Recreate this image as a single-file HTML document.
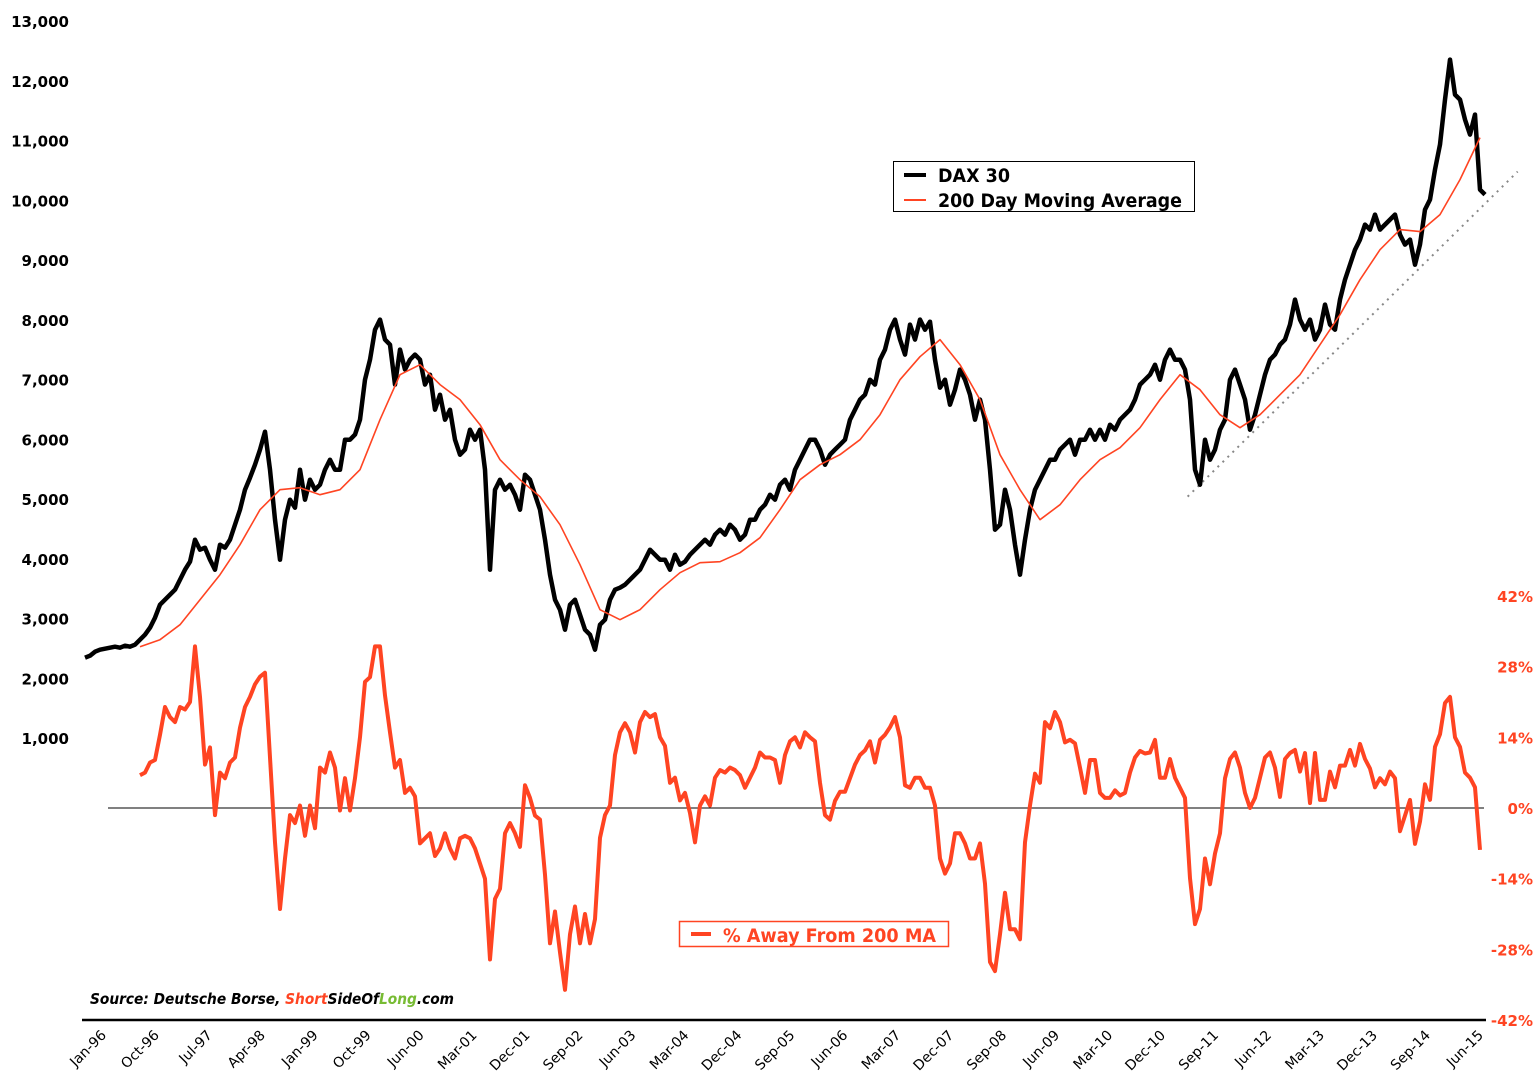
<!DOCTYPE html>
<html><head><meta charset="utf-8"><style>
html,body{margin:0;padding:0;background:#fff;}
svg{display:block;font-family:"DejaVu Sans","Liberation Sans",sans-serif;}
</style></head><body>
<svg id="chart" width="1540" height="1092" viewBox="0 0 1540 1092" xmlns="http://www.w3.org/2000/svg">
<g id="grid"></g>
<g id="marks"></g>
<g>
<rect x="893.5" y="161.5" width="301" height="50" fill="#fff" stroke="#000" stroke-width="1"/>
<line x1="904" y1="175" x2="926" y2="175" stroke="#000" stroke-width="4"/>
<text x="938" y="182" font-size="19" font-weight="bold" fill="#000" textLength="72" lengthAdjust="spacingAndGlyphs">DAX 30</text>
<line x1="904" y1="200" x2="926" y2="200" stroke="#ff4422" stroke-width="2"/>
<text x="938" y="207" font-size="19" font-weight="bold" fill="#000" textLength="244" lengthAdjust="spacingAndGlyphs">200 Day Moving Average</text>
</g>
<g>
<rect x="679.5" y="921.5" width="269" height="25" fill="#fff" stroke="#ff4422" stroke-width="1.5"/>
<line x1="691" y1="934" x2="711" y2="934" stroke="#ff4422" stroke-width="4"/>
<text x="723" y="942" font-size="19" font-weight="bold" fill="#ff4422" textLength="213" lengthAdjust="spacingAndGlyphs">% Away From 200 MA</text>
</g>
<text x="90" y="1004" font-size="15" font-weight="bold" font-style="italic" fill="#000" textLength="364" lengthAdjust="spacingAndGlyphs">Source: Deutsche Borse, <tspan fill="#ff4422">Short</tspan><tspan fill="#000">SideOf</tspan><tspan fill="#77bb33">Long</tspan>.com</text>
</svg>
<script>
const leftTicks=[1000,2000,3000,4000,5000,6000,7000,8000,9000,10000,11000,12000,13000];
const rightTicks=[-42,-28,-14,0,14,28,42];
const xLabels=["Jan-96","Oct-96","Jul-97","Apr-98","Jan-99","Oct-99","Jun-00","Mar-01","Dec-01","Sep-02","Jun-03","Mar-04","Dec-04","Sep-05","Jun-06","Mar-07","Dec-07","Sep-08","Jun-09","Mar-10","Dec-10","Sep-11","Jun-12","Mar-13","Dec-13","Sep-14","Jun-15"];
const daxValues=[2344,2377,2444,2478,2494,2511,2528,2511,2544,2528,2561,2645,2729,2846,3013,3231,3315,3398,3482,3649,3817,3951,4319,4152,4185,3984,3817,4235,4185,4319,4570,4821,5156,5357,5574,5825,6127,5491,4654,3984,4654,4989,4855,5491,4989,5323,5156,5240,5491,5658,5491,5491,5993,5993,6077,6328,6997,7332,7834,8002,7667,7583,6914,7500,7165,7332,7416,7332,6914,7081,6495,6746,6328,6495,5993,5742,5826,6160,5993,6160,5491,3817,5156,5323,5156,5240,5072,4821,5407,5323,5072,4821,4319,3733,3315,3147,2812,3231,3315,3063,2812,2729,2478,2896,2980,3315,3482,3515,3566,3649,3733,3817,3984,4152,4068,3984,3984,3817,4068,3900,3951,4068,4152,4235,4319,4235,4403,4486,4403,4570,4486,4319,4403,4654,4654,4821,4905,5072,4989,5240,5323,5156,5491,5658,5826,5993,5993,5826,5574,5742,5826,5909,5993,6328,6495,6663,6746,6997,6914,7332,7500,7834,8002,7667,7416,7918,7667,8002,7834,7968,7332,6863,6997,6579,6830,7165,6997,6746,6328,6663,6328,5491,4486,4570,5156,4821,4235,3733,4319,4821,5156,5323,5491,5658,5658,5826,5909,5993,5742,5993,5993,6160,5993,6160,5993,6244,6160,6328,6411,6495,6663,6914,6997,7081,7248,6997,7332,7500,7332,7332,7165,6663,5491,5240,5993,5658,5826,6160,6328,6997,7165,6914,6663,6160,6411,6746,7081,7332,7416,7583,7667,7918,8337,8002,7834,8002,7667,7834,8253,7918,7834,8337,8671,8922,9173,9341,9592,9508,9759,9508,9592,9676,9759,9425,9257,9341,8922,9257,9843,10011,10513,10931,11685,12354,11768,11685,11350,11099,11434,10178,10094];
const maValues=[2528,2645,2896,3315,3733,4235,4821,5156,5189,5072,5156,5491,6328,7081,7248,6914,6663,6244,5658,5323,5039,4570,3900,3147,2980,3147,3482,3766,3934,3951,4101,4352,4821,5323,5574,5742,5993,6411,6997,7382,7667,7248,6663,5742,5156,4654,4905,5323,5658,5859,6194,6663,7081,6830,6411,6194,6411,6746,7081,7583,8085,8671,9173,9508,9475,9759,10345,11048];
const pctValues=[6.5,7,9,9.5,14.5,20,18,17,20,19.5,21,32,22,8.6,12,-1.4,7,5.9,9,10,15.9,20,22,24.5,26,26.8,10,-6.8,-20,-10,-1.4,-3,0.5,-5.5,0.5,-4,8,7,11,8,-0.5,5.9,-0.5,5.9,14,25,25.9,32,32,22.3,15,8,9.5,3,4,2.3,-7,-6,-5,-9.5,-8,-5,-8,-10,-6,-5.5,-6,-8,-11,-14,-30,-18,-16,-5,-3,-5,-7.7,4.5,2,-1.5,-2.3,-13.2,-26.8,-20.5,-28.6,-36,-25,-19.5,-26.8,-21,-26.8,-22,-5.9,-1.4,0.5,10.5,15,16.8,15,11,17,19,18,18.6,14,12.3,5,6,1.5,3,-1,-6.8,0.5,2.3,0.5,6,7.5,7,8,7.5,6.5,4,6,8,11,10,10,9.5,5,10.5,13.2,14,12,15,14,13.2,5,-1.4,-2.3,1.4,3.2,3.2,5.9,8.6,10.5,11.4,13.2,9,13.5,14.5,16,18,14,4.5,4,6,6,4,4,0.5,-10,-13,-11,-5,-5,-7,-10,-10,-7,-15,-30.5,-32.3,-25,-16.8,-24,-24,-26,-6.8,0.5,6.8,5,17,15.8,19,17,13,13.5,12.8,8,3,9.5,9.5,3,2,2,3.5,2.5,3,7,10,11.3,10.8,11,13.5,6,6,9.7,6,4,2,-13.9,-23,-20,-10,-15.1,-9,-5,5.9,9.7,11,8,3,0,2,6,10,11,8,2.2,9.7,10.9,11.5,7.2,10.9,1,10.9,1.6,1.6,7.2,4.1,8.4,8.4,11.5,8.4,12.7,9.7,7.8,4.1,5.9,4.7,7.2,5.9,-4.6,-1.5,1.6,-7.1,-2.7,4.7,1.6,12.1,14.6,20.8,22,14,12.1,7,6,4.1,-8.3];
const trendStart=[15.37,5040], trendEnd=[19.97,10480];

const NS="http://www.w3.org/2000/svg";
const STEP_YEARS=5/71.74, MA_START=11, MA_STEP=4, PCT_START=11;
function xScale(t){return 85+t*71.74;}
function yLeft(v){return 797.75-v*0.05975;}
function yRight(p){return 808-p*5.05;}
function mk(tag,attrs,parent){const e=document.createElementNS(NS,tag);for(const k in attrs)e.setAttribute(k,attrs[k]);parent.appendChild(e);return e;}
const grid=document.getElementById('grid'), marks=document.getElementById('marks');

leftTicks.forEach(v=>{
  const t=mk('text',{x:69,y:yLeft(v)+6,'text-anchor':'end','font-size':15,'font-weight':'bold',fill:'#000'},grid);
  
  
  t.textContent=v.toLocaleString('en-US');
});
rightTicks.forEach(p=>{
  const t=mk('text',{x:1533,y:yRight(p)+6,'text-anchor':'end','font-size':15,'font-weight':'bold',fill:'#ff4422'},grid);
  
  
  t.textContent=p+'%';
});
xLabels.forEach((s,i)=>{
  const x=107+i*(1484-107)/(xLabels.length-1), y=1036;
  const t=mk('text',{x:x,y:y,'text-anchor':'end','font-size':14,fill:'#000',transform:`rotate(-45 ${x} ${y})`},grid);
  
  
  t.textContent=s;
});
const ax=mk('line',{x1:82,y1:1020,x2:1486,y2:1020,stroke:'#000','stroke-width':2.5},grid);


const zl=mk('line',{x1:108,y1:yRight(0),x2:1484,y2:yRight(0),stroke:'#000','stroke-width':1},grid);



function pathFrom(vals,start,step,yf){return vals.map((v,i)=>(i?'L':'M')+xScale((start+i*step)*STEP_YEARS).toFixed(1)+','+yf(v).toFixed(1)).join('');}
const pct=mk('path',{d:pathFrom(pctValues,PCT_START,1,yRight),fill:'none',stroke:'#ff4422','stroke-width':4,'stroke-linejoin':'round'},marks);


const tr=mk('line',{x1:xScale(trendStart[0]),y1:yLeft(trendStart[1]),x2:xScale(trendEnd[0]),y2:yLeft(trendEnd[1]),stroke:'#888','stroke-width':2,'stroke-dasharray':'2 5'},marks);


const dax=mk('path',{d:pathFrom(daxValues,0,1,yLeft),fill:'none',stroke:'#000','stroke-width':4.5,'stroke-linejoin':'round'},marks);


const ma=mk('path',{d:pathFrom(maValues,MA_START,MA_STEP,yLeft),fill:'none',stroke:'#ff4422','stroke-width':1.6,'stroke-linejoin':'round'},marks);


</script>
</body></html>
